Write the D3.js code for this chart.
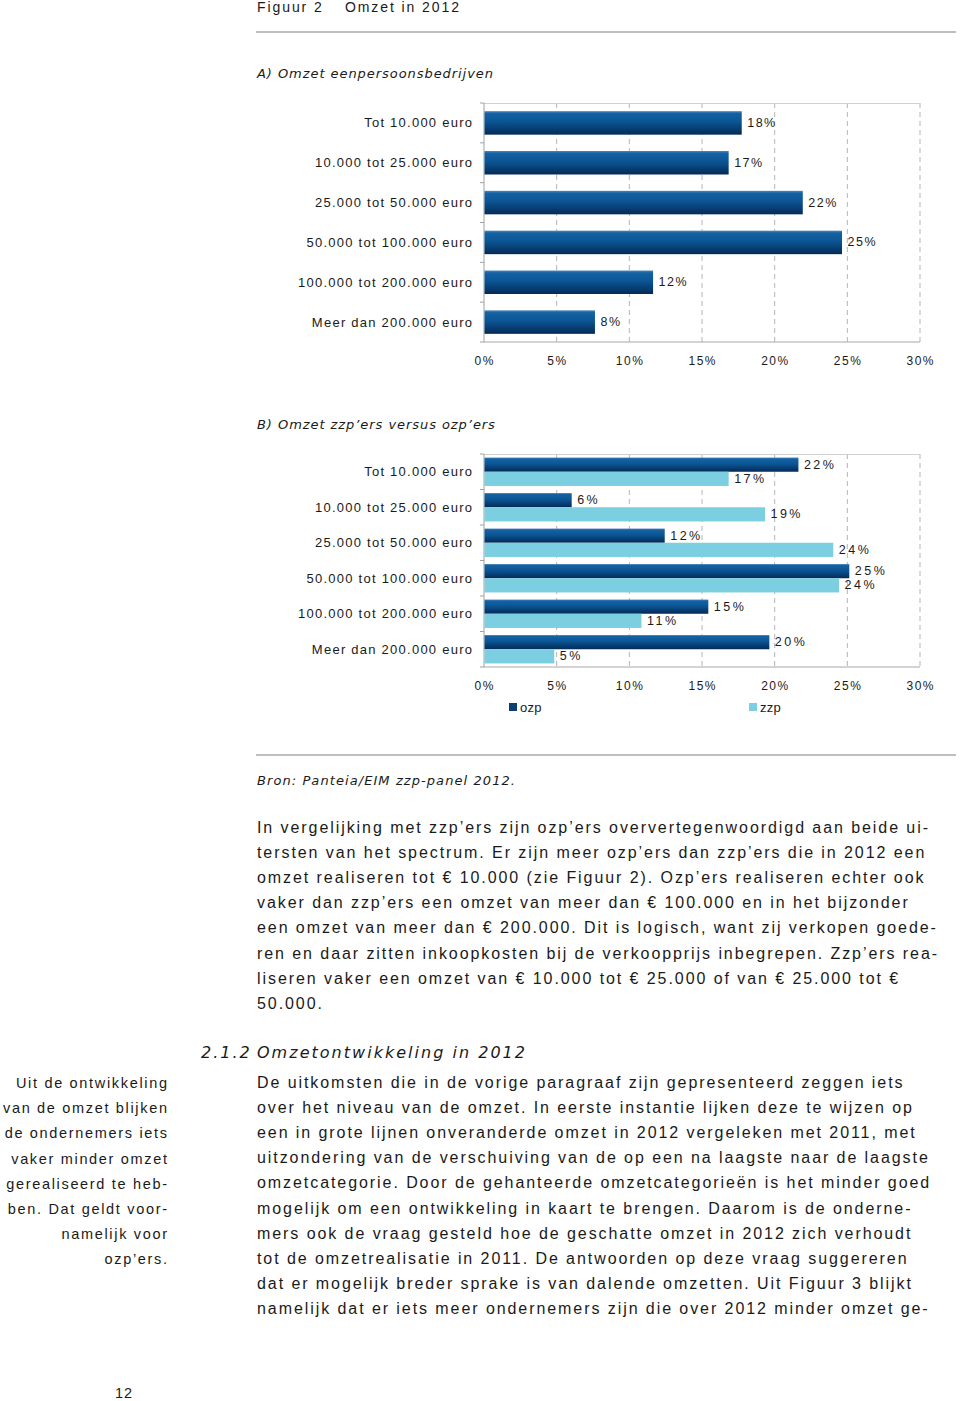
<!DOCTYPE html>
<html><head><meta charset="utf-8">
<script src="https://cdn.jsdelivr.net/npm/d3@7"></script>
<style>body{margin:0;background:#fff}svg{display:block}</style>
</head><body><svg id="c" width="960" height="1401"></svg>
<script>
// ---- data ----
const categories = ["Tot 10.000 euro","10.000 tot 25.000 euro","25.000 tot 50.000 euro","50.000 tot 100.000 euro","100.000 tot 200.000 euro","Meer dan 200.000 euro"];
const totalValues = [0.177,0.168,0.219,0.246,0.116,0.076];
const ozpValues = [0.216,0.060,0.124,0.251,0.154,0.196];
const zzpValues = [0.168,0.193,0.240,0.244,0.108,0.048];
const seriesNames = ["ozp","zzp"];
const tickValues = [0,0.05,0.10,0.15,0.20,0.25,0.30];

const para1 = [
"In vergelijking met zzp’ers zijn ozp’ers oververtegenwoordigd aan beide ui-",
"tersten van het spectrum. Er zijn meer ozp’ers dan zzp’ers die in 2012 een",
"omzet realiseren tot € 10.000 (zie Figuur 2). Ozp’ers realiseren echter ook",
"vaker dan zzp’ers een omzet van meer dan € 100.000 en in het bijzonder",
"een omzet van meer dan € 200.000. Dit is logisch, want zij verkopen goede-",
"ren en daar zitten inkoopkosten bij de verkoopprijs inbegrepen. Zzp’ers rea-",
"liseren vaker een omzet van € 10.000 tot € 25.000 of van € 25.000 tot €",
"50.000."];
const para2 = [
"De uitkomsten die in de vorige paragraaf zijn gepresenteerd zeggen iets",
"over het niveau van de omzet. In eerste instantie lijken deze te wijzen op",
"een in grote lijnen onveranderde omzet in 2012 vergeleken met 2011, met",
"uitzondering van de verschuiving van de op een na laagste naar de laagste",
"omzetcategorie. Door de gehanteerde omzetcategorieën is het minder goed",
"mogelijk om een ontwikkeling in kaart te brengen. Daarom is de onderne-",
"mers ook de vraag gesteld hoe de geschatte omzet in 2012 zich verhoudt",
"tot de omzetrealisatie in 2011. De antwoorden op deze vraag suggereren",
"dat er mogelijk breder sprake is van dalende omzetten. Uit Figuur 3 blijkt",
"namelijk dat er iets meer ondernemers zijn die over 2012 minder omzet ge-"];
const sideNote = ["Uit de ontwikkeling","van de omzet blijken","de ondernemers iets","vaker minder omzet","gerealiseerd te heb-","ben. Dat geldt voor-","namelijk voor","ozp’ers."];

// ---- helpers ----
const svg = d3.select("#c");
const SANS = "'Liberation Sans', Arial, sans-serif";
const VERD = "'DejaVu Sans', Verdana, sans-serif";
const fmt = d3.format(".0%");

function spacingFor(text, font, size, target, style) {
  const t = svg.append("text").attr("font-family", font).attr("font-size", size)
    .attr("font-style", style || "normal").text(text);
  const w = t.node().getComputedTextLength();
  t.remove();
  return (target - w) / (text.length - 1);
}
function txt(x, y, s, o) {
  o = o || {};
  return svg.append("text").attr("x", x).attr("y", y).text(s)
    .attr("font-family", o.font || SANS).attr("font-size", o.size || 13)
    .attr("font-style", o.style || "normal")
    .attr("letter-spacing", o.ls || 0)
    .attr("text-anchor", o.anchor || "start")
    .attr("dominant-baseline", "central")
    .attr("fill", o.fill || "#1a1a1a");
}

// gradient
const defs = svg.append("defs");
const g1 = defs.append("linearGradient").attr("id","ozpGrad").attr("x1",0).attr("y1",0).attr("x2",0).attr("y2",1);
[[0,"#4e88bf"],[0.1,"#1462a3"],[0.45,"#0b5594"],[1,"#042a56"]].forEach(s=>g1.append("stop").attr("offset",s[0]).attr("stop-color",s[1]));

// ---- header ----
const hls = spacingFor("Omzet in 2012", SANS, 14, 114);
txt(257, 7, "Figuur 2", {size:14, ls:hls});
txt(345, 7, "Omzet in 2012", {size:14, ls:hls});
svg.append("line").attr("x1",256).attr("x2",956).attr("y1",32).attr("y2",32).attr("stroke","#808080").attr("stroke-width",1.2);

const its = spacingFor("A) Omzet eenpersoonsbedrijven", VERD, 13, 236, "italic");
txt(257, 73, "A) Omzet eenpersoonsbedrijven", {font:VERD, size:13, style:"italic", ls:its});
txt(257, 424, "B) Omzet zzp’ers versus ozp’ers", {font:VERD, size:13, style:"italic", ls:its});

// ---- shared scale ----
const x = d3.scaleLinear().domain([0, 0.30]).range([484, 920]);
const catLs = spacingFor("100.000 tot 200.000 euro", SANS, 13, 174);
const tickLs = spacingFor("30%", SANS, 12, 27);

function frame(top, bottom, y) {
  const g = svg.append("g");
  g.selectAll("line.grid").data(tickValues.slice(1)).join("line")
    .attr("x1", d=>x(d)).attr("x2", d=>x(d)).attr("y1", top).attr("y2", bottom)
    .attr("stroke", "#b5b5b5").attr("stroke-dasharray", "5,4").attr("stroke-width", 1);
  g.append("line").attr("x1", x(0)).attr("x2", x(0.30)).attr("y1", top+0.5).attr("y2", top+0.5).attr("stroke","#d0d0d0");
  g.append("line").attr("x1", x(0)).attr("x2", x(0.30)).attr("y1", bottom).attr("y2", bottom).attr("stroke","#a8a8a8");
  g.append("line").attr("x1", x(0)).attr("x2", x(0)).attr("y1", top).attr("y2", bottom).attr("stroke","#a0a0a0");
  const bounds = d3.range(categories.length + 1).map(i => top + i * (bottom - top) / categories.length);
  g.selectAll("line.tk").data(bounds).join("line")
    .attr("x1", x(0) - 4).attr("x2", x(0)).attr("y1", d=>d).attr("y2", d=>d).attr("stroke","#a0a0a0");
  categories.forEach(c => txt(472 + catLs, y(c) + y.bandwidth()/2, c, {size:13, ls:catLs, anchor:"end"}));
  return g;
}
function xTicks(yPos) {
  tickValues.forEach(t => txt(x(t) + tickLs/2, yPos, fmt(t), {size:12, ls:tickLs, anchor:"middle"}));
}

// ---- Chart A ----
const yA = d3.scaleBand().domain(categories).range([103, 342]).paddingInner(0.41).paddingOuter(0.205);
frame(103, 342, yA);
svg.append("g").selectAll("rect").data(categories).join("rect")
  .attr("x", x(0)+0.5).attr("y", d=>yA(d)).attr("height", yA.bandwidth())
  .attr("width", (d,i)=>x(totalValues[i]) - x(0))
  .attr("fill", "url(#ozpGrad)");
categories.forEach((c,i)=> txt(x(totalValues[i]) + 6, yA(c) + yA.bandwidth()/2, fmt(totalValues[i]), {size:12.5, ls:tickLs}));
xTicks(361);

// ---- Chart B ----
const yB = d3.scaleBand().domain(categories).range([454, 667]).paddingInner(0.2).paddingOuter(0.1);
const ySub = d3.scaleBand().domain(seriesNames).range([0, yB.bandwidth()]);
frame(454, 667, yB);
const seriesVals = {ozp: ozpValues, zzp: zzpValues};
const seriesFill = {ozp: "url(#ozpGrad)", zzp: "#7ccfe0"};
const bLs = spacingFor("24%", SANS, 12.5, 30);
seriesNames.forEach(s => {
  svg.append("g").selectAll("rect").data(categories).join("rect")
    .attr("x", x(0)+0.5).attr("y", d=>yB(d) + ySub(s)).attr("height", ySub.bandwidth())
    .attr("width", (d,i)=>x(seriesVals[s][i]) - x(0))
    .attr("fill", seriesFill[s]);
  categories.forEach((c,i)=> txt(x(seriesVals[s][i]) + 6, yB(c) + ySub(s) + ySub.bandwidth()/2, fmt(seriesVals[s][i]), {size:12.5, ls:bLs}));
});
xTicks(686);

// legend
const legX = {ozp: 509, zzp: 749};
seriesNames.forEach(s => {
  svg.append("rect").attr("x", legX[s]).attr("y", 703).attr("width", 8).attr("height", 8)
    .attr("fill", s === "ozp" ? "#0b3f73" : "#7ccfe0");
  txt(legX[s] + 11, 707, s, {size:13, ls:0.3});
});

// bottom rule + source
svg.append("line").attr("x1",256).attr("x2",956).attr("y1",755).attr("y2",755).attr("stroke","#808080").attr("stroke-width",1.2);
const bronLs = spacingFor("Bron: Panteia/EIM zzp-panel 2012.", VERD, 13, 258, "italic");
txt(257, 780, "Bron: Panteia/EIM zzp-panel 2012.", {font:VERD, size:13, style:"italic", ls:bronLs});

// ---- body text ----
const pLs = spacingFor(para1[0], SANS, 16, 671);
para1.forEach((l,i)=> txt(257, 827 + i*25.2, l, {size:16, ls:pLs}));

const hLs = spacingFor("Omzetontwikkeling in 2012", VERD, 16, 268, "italic");
txt(201, 1052, "2.1.2", {font:VERD, size:16, style:"italic", ls:hLs});
txt(257, 1052, "Omzetontwikkeling in 2012", {font:VERD, size:16, style:"italic", ls:hLs});

para2.forEach((l,i)=> txt(257, 1082 + i*25.2, l, {size:16, ls:pLs}));

const sLs = spacingFor("van de omzet blijken", SANS, 14.5, 164);
sideNote.forEach((l,i)=> txt(167 + sLs, 1083 + i*25.2, l, {size:14.5, ls:sLs, anchor:"end"}));

txt(115, 1393, "12", {size:14.5, ls:1});
</script>
</body></html>
